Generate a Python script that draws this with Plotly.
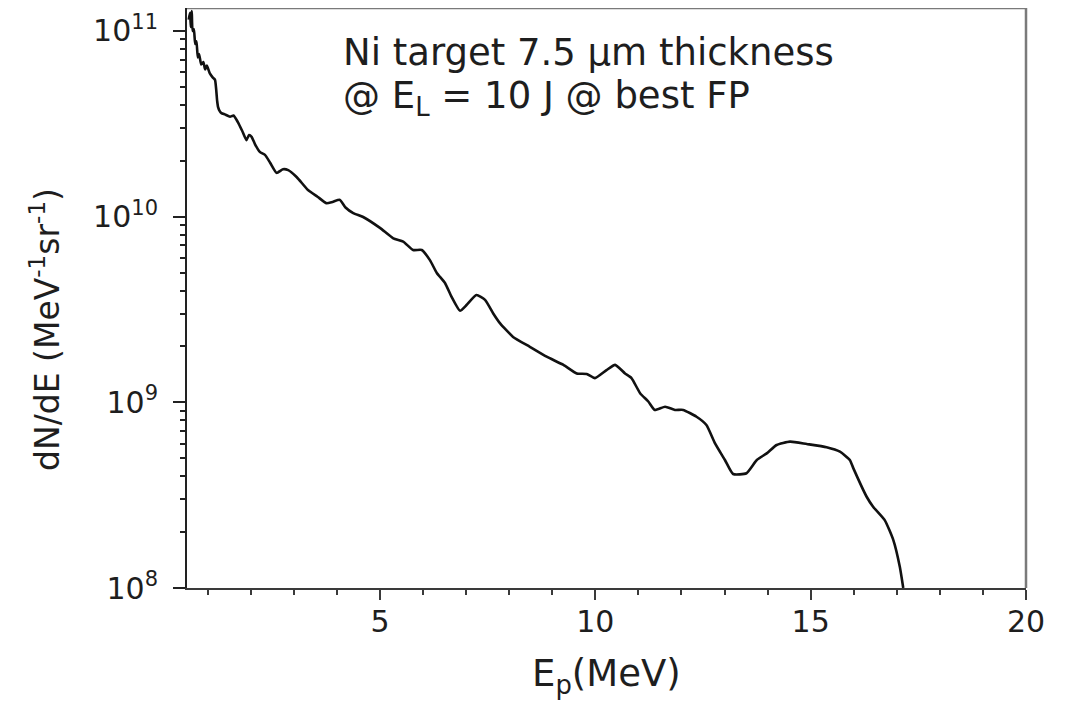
import plotly.graph_objects as go

# Proton energy (MeV) and spectrum dN/dE (MeV^-1 sr^-1)
energy = [0.56, 0.59, 0.61, 0.63, 0.65, 0.68, 0.71, 0.74, 0.77, 0.80, 0.85, 0.90,
          0.94, 0.98, 1.05, 1.12, 1.17, 1.22, 1.24, 1.28, 1.32, 1.40, 1.52, 1.60,
          1.70, 1.80, 1.90, 1.96, 2.02, 2.10, 2.21, 2.33, 2.45, 2.60, 2.75, 2.87,
          3.07, 3.33, 3.55, 3.76, 3.90, 4.07, 4.20, 4.38, 4.61, 5.00, 5.31, 5.54,
          5.77, 5.97, 6.16, 6.32, 6.51, 6.66, 6.86, 7.01, 7.24, 7.44, 7.63, 7.79,
          8.09, 8.48, 8.87, 9.26, 9.57, 9.80, 9.99, 10.26, 10.46, 10.69, 10.84,
          11.04, 11.23, 11.38, 11.62, 11.85, 12.04, 12.35, 12.58, 12.78, 13.01,
          13.20, 13.51, 13.75, 13.98, 14.21, 14.52, 14.91, 15.37, 15.68, 15.91,
          15.99, 16.30, 16.45, 16.72, 16.92, 17.07, 17.15]
dnde = [1.15e11, 1.25e11, 1.05e11, 1.28e11, 1.00e11, 1.02e11, 8.5e10, 8.8e10,
        7.2e10, 7.5e10, 6.6e10, 6.8e10, 6.2e10, 6.5e10, 5.9e10, 5.6e10, 5.45e10,
        4.2e10, 3.9e10, 3.7e10, 3.61e10, 3.55e10, 3.45e10, 3.5e10, 3.23e10,
        2.9e10, 2.58e10, 2.75e10, 2.69e10, 2.45e10, 2.23e10, 2.15e10, 1.95e10,
        1.72e10, 1.8e10, 1.78e10, 1.63e10, 1.39e10, 1.28e10, 1.18e10, 1.2e10,
        1.23e10, 1.12e10, 1.045e10, 9.95e9, 8.69e9, 7.64e9, 7.33e9, 6.61e9,
        6.61e9, 5.83e9, 4.97e9, 4.39e9, 3.71e9, 3.11e9, 3.34e9, 3.78e9, 3.56e9,
        3.01e9, 2.66e9, 2.25e9, 1.99e9, 1.76e9, 1.59e9, 1.43e9, 1.42e9, 1.35e9,
        1.49e9, 1.59e9, 1.43e9, 1.35e9, 1.12e9, 1.01e9, 9.10e8, 9.46e8, 9.10e8,
        9.10e8, 8.36e8, 7.55e8, 6.01e8, 4.89e8, 4.11e8, 4.15e8, 4.89e8, 5.31e8,
        5.89e8, 6.14e8, 5.96e8, 5.73e8, 5.42e8, 4.89e8, 4.42e8, 3.10e8, 2.74e8,
        2.32e8, 1.81e8, 1.30e8, 1.0e8]

x_ticks = [5, 10, 15, 20]
x_tick_labels = ["5", "10", "15", "20"]
y_ticks = [1e8, 1e9, 1e10, 1e11]
y_tick_labels = ["10<sup>8</sup>", "10<sup>9</sup>", "10<sup>10</sup>", "10<sup>11</sup>"]
y_minor = [k * 10 ** n for n in (8, 9, 10) for k in range(2, 10)]

FONT = "DejaVu Sans"
TXT = "#1e1e1e"

# page body has an 8px margin: plot area spans page x 187..1026, y 8..588
PL, PR, PT, PB = 187, 1026, 8, 588
PW, PH = PR - PL, PB - PT


def px(x):
    return (x - PL) / PW


def py(y):
    return 1 - (y - PT) / PH


fig = go.Figure()
fig.add_trace(go.Scatter(
    x=energy, y=dnde, mode="lines",
    line=dict(color="#111111", width=2.6, shape="spline", smoothing=0.5),
    showlegend=False, hoverinfo="skip"))

fig.update_layout(
    width=1060, height=697,
    margin=dict(l=PL - 8, r=1068 - PR, t=0, b=705 - PB, pad=0),
    paper_bgcolor="white", plot_bgcolor="white",
    font=dict(family=FONT, color=TXT),
    xaxis=dict(
        range=[0.52, 20], showgrid=False, zeroline=False,
        showline=True, linecolor="#3a3a3a", linewidth=2,
        tickmode="array", tickvals=x_ticks, ticktext=x_tick_labels,
        ticks="outside", ticklen=10, tickwidth=2, tickcolor="#3a3a3a",
        tickfont=dict(size=30, family=FONT, color=TXT),
        ticklabelstandoff=-4,
        minor=dict(dtick=1, tick0=0, ticks="outside", ticklen=5,
                   tickwidth=2, tickcolor="#3a3a3a", showgrid=False),
    ),
    yaxis=dict(
        type="log", range=[8, 8 + (PB - PT) / 185.7], showgrid=False, zeroline=False,
        showline=True, linecolor="#222222", linewidth=2,
        tickmode="array", tickvals=y_ticks, ticktext=y_tick_labels,
        ticks="outside", ticklen=12, tickwidth=2, tickcolor="#222222",
        tickfont=dict(size=30, family=FONT, color=TXT),
        ticklabelstandoff=9,
        minor=dict(tickmode="array", tickvals=y_minor, ticks="outside",
                   ticklen=5, tickwidth=2, tickcolor="#222222", showgrid=False),
    ),
    shapes=[
        dict(type="line", xref="paper", yref="paper", x0=0, x1=1, y0=1, y1=1,
             line=dict(color="#7a7a7a", width=2.5)),
        dict(type="line", xref="paper", yref="paper", x0=1, x1=1, y0=0, y1=1,
             line=dict(color="#7a7a7a", width=2.5)),
    ],
    annotations=[
        dict(text="Ni target 7.5 \u03bcm thickness", xref="paper", yref="paper",
             x=px(341), y=py(52), xanchor="left", yanchor="middle", showarrow=False,
             font=dict(size=37, family=FONT, color=TXT)),
        dict(text="@ E<sub>L</sub> = 10 J @ best FP", xref="paper", yref="paper",
             x=px(341), y=py(98), xanchor="left", yanchor="middle", showarrow=False,
             font=dict(size=37, family=FONT, color=TXT)),
        dict(text="E<sub>p</sub>(MeV)", xref="paper", yref="paper",
             x=px(606), y=py(676), xanchor="center", yanchor="middle",
             showarrow=False, font=dict(size=37, family=FONT, color=TXT)),
        dict(text="dN/dE (MeV<sup>-1</sup>sr<sup>-1</sup>)", xref="paper", yref="paper",
             x=px(45), y=py(330), xanchor="center", yanchor="middle",
             textangle=-90, showarrow=False, font=dict(size=33, family=FONT, color=TXT)),
    ],
)

fig.write_html("out.html")
